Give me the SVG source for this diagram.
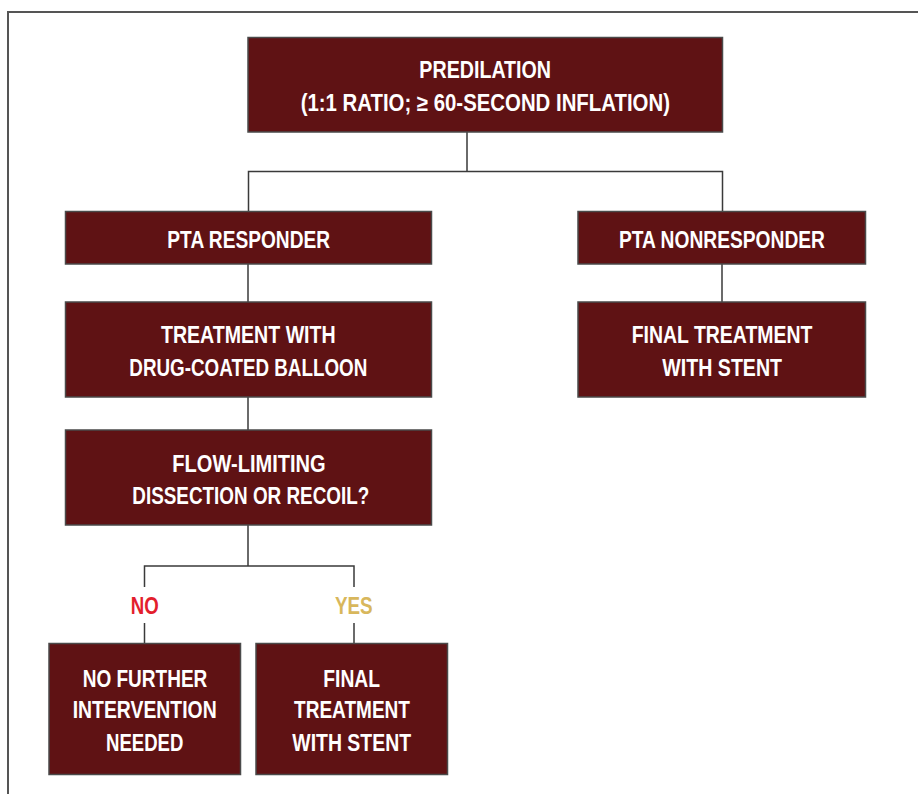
<svg xmlns="http://www.w3.org/2000/svg" width="918" height="794" viewBox="0 0 918 794">
<style>
.box{fill:#5f1214;stroke:#4a4a4a;stroke-width:1.5}
.t{font-family:"Liberation Sans",Arial,sans-serif;font-weight:bold;font-size:23px;fill:#ffffff;text-anchor:middle}
.lbl{font-family:"Liberation Sans",Arial,sans-serif;font-weight:bold;font-size:23px;text-anchor:middle}
.ln{fill:none;stroke:#3a3a3a;stroke-width:1.5}
</style>
<rect width="918" height="794" fill="#ffffff"/>
<path d="M8 794 V12 H918" fill="none" stroke="#555555" stroke-width="2"/>
<g id="connectors">
<path class="ln" d="M467 132 V171.5 M248.5 211 V171.5 H722.5 V211"/>
<path class="ln" d="M248 264 V302"/>
<path class="ln" d="M722 264 V302"/>
<path class="ln" d="M248 397 V430"/>
<path class="ln" d="M248 525 V566 M144.5 587 V566 H354 V587"/>
<path class="ln" d="M144.5 623 V643"/>
<path class="ln" d="M354 623 V643"/>
</g>
<g id="predilation">
<rect class="box" x="248" y="37.5" width="474.5" height="94.5"/>
<text class="t" x="485.2" y="78" textLength="131.7" lengthAdjust="spacingAndGlyphs">PREDILATION</text>
<text class="t" x="485.3" y="111" textLength="369.3" lengthAdjust="spacingAndGlyphs">(1:1 RATIO; ≥ 60-SECOND INFLATION)</text>
</g>
<g id="pta-responder">
<rect class="box" x="65.5" y="211.5" width="366" height="52.5"/>
<text class="t" x="248.7" y="247.7" textLength="162.7" lengthAdjust="spacingAndGlyphs">PTA RESPONDER</text>
</g>
<g id="pta-nonresponder">
<rect class="box" x="578" y="211.5" width="287.5" height="52.5"/>
<text class="t" x="722" y="247.7" textLength="206" lengthAdjust="spacingAndGlyphs">PTA NONRESPONDER</text>
</g>
<g id="dcb">
<rect class="box" x="65.5" y="302" width="366" height="95"/>
<text class="t" x="248.3" y="343.3" textLength="174.7" lengthAdjust="spacingAndGlyphs">TREATMENT WITH</text>
<text class="t" x="248.3" y="376" textLength="238" lengthAdjust="spacingAndGlyphs">DRUG-COATED BALLOON</text>
</g>
<g id="final-stent-right">
<rect class="box" x="578" y="302" width="287.5" height="95"/>
<text class="t" x="722" y="343.3" textLength="180.7" lengthAdjust="spacingAndGlyphs">FINAL TREATMENT</text>
<text class="t" x="722.2" y="375.7" textLength="119.7" lengthAdjust="spacingAndGlyphs">WITH STENT</text>
</g>
<g id="flow-limiting">
<rect class="box" x="65.5" y="430" width="366" height="95"/>
<text class="t" x="249" y="471.7" textLength="153.3" lengthAdjust="spacingAndGlyphs">FLOW-LIMITING</text>
<text class="t" x="250.8" y="504" textLength="237" lengthAdjust="spacingAndGlyphs">DISSECTION OR RECOIL?</text>
</g>
<g id="label-no">
<text class="lbl" x="144.7" y="614" fill="#e31e2d" textLength="28" lengthAdjust="spacingAndGlyphs">NO</text>
</g>
<g id="label-yes">
<text class="lbl" x="353.8" y="614" fill="#d8b75c" textLength="37.7" lengthAdjust="spacingAndGlyphs">YES</text>
</g>
<g id="no-further">
<rect class="box" x="49" y="643.5" width="191.5" height="131"/>
<text class="t" x="145" y="686.7" textLength="124.7" lengthAdjust="spacingAndGlyphs">NO FURTHER</text>
<text class="t" x="144.7" y="718.3" textLength="144" lengthAdjust="spacingAndGlyphs">INTERVENTION</text>
<text class="t" x="144.7" y="750.7" textLength="77.3" lengthAdjust="spacingAndGlyphs">NEEDED</text>
</g>
<g id="final-stent-left">
<rect class="box" x="256" y="643.5" width="191.5" height="131"/>
<text class="t" x="351.7" y="686.7" textLength="56.7" lengthAdjust="spacingAndGlyphs">FINAL</text>
<text class="t" x="352" y="718.3" textLength="116" lengthAdjust="spacingAndGlyphs">TREATMENT</text>
<text class="t" x="351.7" y="750.7" textLength="118.7" lengthAdjust="spacingAndGlyphs">WITH STENT</text>
</g>
</svg>
